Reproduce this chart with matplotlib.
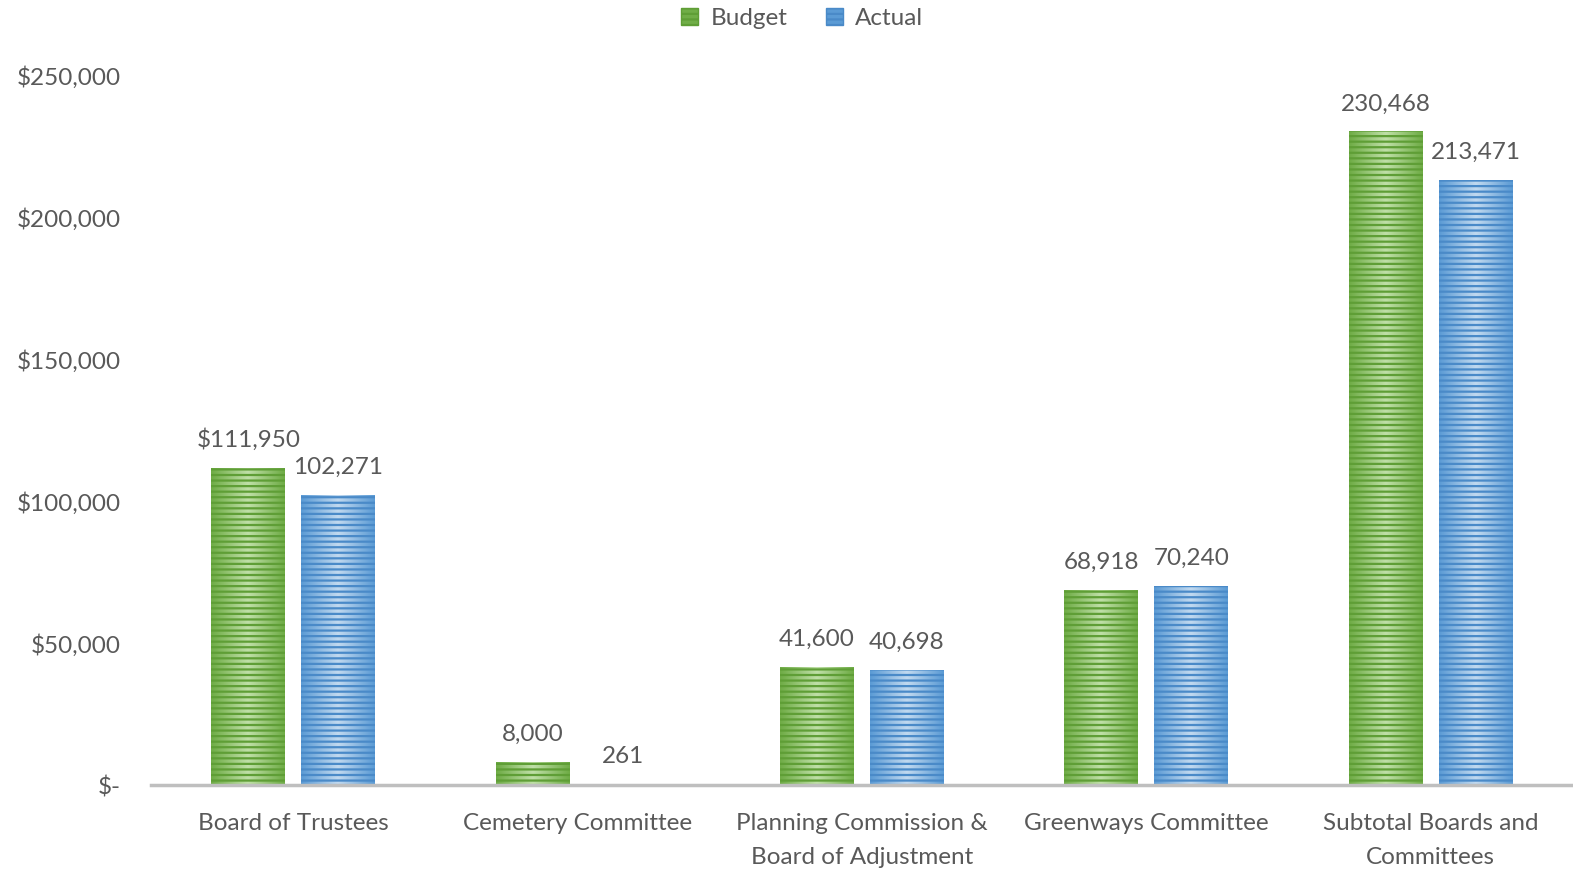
import matplotlib.pyplot as plt
import matplotlib.colors as mcolors
import numpy as np

categories = ["Board of Trustees", "Cemetery Committee",
              "Planning Commission &\nBoard of Adjustment",
              "Greenways Committee", "Subtotal Boards and\nCommittees"]
budget = [111950, 8000, 41600, 68918, 230468]
actual = [102271, 261, 40698, 70240, 213471]
budget_labels = ["$111,950", "8,000", "41,600", "68,918", "230,468"]
actual_labels = ["102,271", "261", "40,698", "70,240", "213,471"]
yticks = [0, 50000, 100000, 150000, 200000, 250000]
ytick_labels = ["$-", "$50,000", "$100,000", "$150,000", "$200,000", "$250,000"]

plt.rcParams['font.family'] = ['Lato', 'DejaVu Sans']
plt.rcParams['hatch.linewidth'] = 1.6
grey = '#595959'
fs = 17.5

fig = plt.figure(figsize=(15.73, 8.71), dpi=100)
ax = fig.add_axes([151 / 1573, 86 / 871, 1422 / 1573, 709 / 871])

x = np.arange(len(categories))
w = 0.26
off = 0.158


def striped_bars(xs, vals, edge, mid, line):
    bars = ax.bar(xs, vals, w, color='none', edgecolor='none', zorder=2)
    cmap = mcolors.LinearSegmentedColormap.from_list('g', [edge, mid, edge])
    grad = np.linspace(0, 1, 64).reshape(1, -1)
    for b in bars:
        x0, y0 = b.get_x(), b.get_y()
        im = ax.imshow(grad, cmap=cmap, aspect='auto', zorder=2,
                       extent=[x0, x0 + b.get_width(), y0, y0 + b.get_height()])
        im.set_clip_path(b)
    ax.bar(xs, vals, w, color='none', edgecolor=line, hatch='---',
           linewidth=0, zorder=3)
    return bars


striped_bars(x - off, budget, '#6fac46', '#c0e0a8', '#5f9e36')
striped_bars(x + off, actual, '#5b9bd5', '#c2daf0', '#4a8ac8')

for i in range(len(categories)):
    ax.text(x[i] - off, budget[i] + 6000, budget_labels[i], ha='center',
            va='bottom', fontsize=fs, color=grey)
    ax.text(x[i] + off, actual[i] + 6000, actual_labels[i], ha='center',
            va='bottom', fontsize=fs, color=grey)

ax.set_xlim(-0.5, 4.5)
ax.set_ylim(0, 250000)
ax.set_yticks(yticks)
ax.set_yticklabels(ytick_labels)
ax.set_xticks(x)
ax.set_xticklabels(categories, linespacing=1.75)
ax.tick_params(axis='both', length=0, labelsize=fs, labelcolor=grey)
ax.tick_params(axis='y', pad=22)
ax.tick_params(axis='x', pad=20)
for s in ['top', 'right', 'left']:
    ax.spines[s].set_visible(False)
ax.spines['bottom'].set_color('#bfbfbf')
ax.spines['bottom'].set_linewidth(2.5)

handles = [plt.Rectangle((0, 0), 1, 1, facecolor='#70ad47', edgecolor='#5f9e36', hatch='---'),
           plt.Rectangle((0, 0), 1, 1, facecolor='#5b9bd5', edgecolor='#4a8ac8', hatch='---')]
fig.legend(handles, ['Budget', 'Actual'], loc='upper center', ncol=2,
           bbox_to_anchor=(0.51, 1.016), frameon=False, fontsize=fs,
           handlelength=0.7, handleheight=0.7, handletextpad=0.5,
           columnspacing=1.6, labelcolor=grey)

fig.savefig('out.png', dpi=100)
